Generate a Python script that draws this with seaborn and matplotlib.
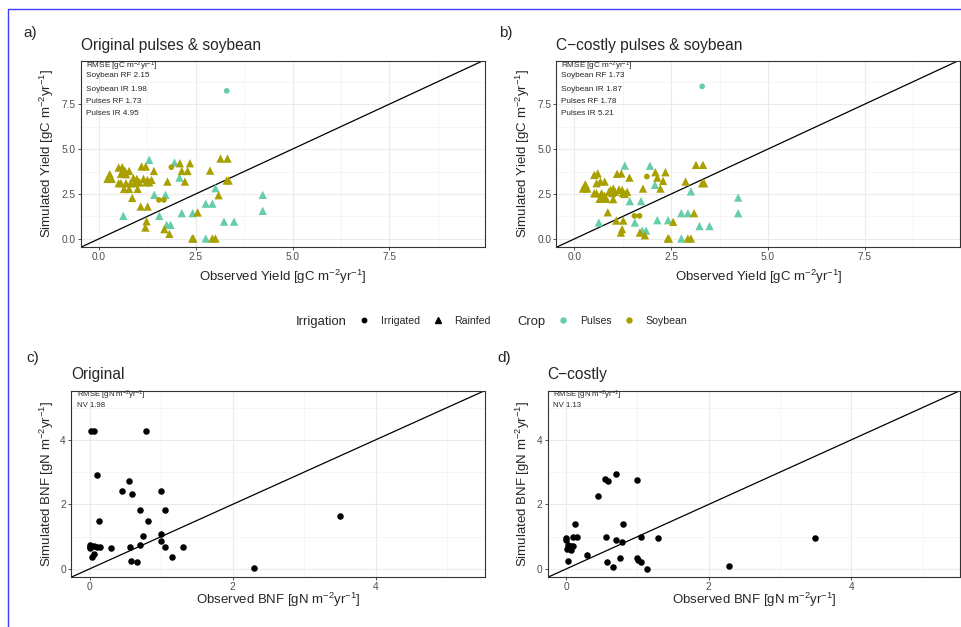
import matplotlib.pyplot as plt
import matplotlib.lines as mlines
import pandas as pd
import seaborn as sns

sns.set_theme(style="ticks")

plt.rcParams["font.family"] = ["Liberation Sans", "DejaVu Sans"]
plt.rcParams["mathtext.fontset"] = "custom"
plt.rcParams["mathtext.rm"] = "Liberation Sans"
plt.rcParams["mathtext.it"] = "Liberation Sans:italic"
plt.rcParams["mathtext.bf"] = "Liberation Sans:bold"
plt.rcParams["mathtext.default"] = "regular"

W, H = 961, 627

# ---- yield data (gC m-2 yr-1), top panels ----
pulses_rf_obs = [1.30, 1.95, 2.08, 1.43, 1.72, 0.63, 1.56, 1.75, 1.85, 2.14,
                 2.42, 2.76, 2.93, 3.01, 3.23, 3.49, 4.23, 4.23, 2.76]
pulses_rf_orig = [4.40, 4.25, 3.41, 2.45, 2.45, 1.28, 1.28, 0.78, 0.78, 1.43,
                  1.43, 1.96, 1.96, 2.82, 0.96, 0.96, 2.45, 1.56, 0.02]
pulses_rf_ccost = [4.08, 4.07, 3.01, 2.10, 2.10, 0.91, 0.91, 0.46, 0.46, 1.04,
                   1.04, 1.43, 1.43, 2.64, 0.71, 0.71, 2.30, 1.43, 0.02]

pulses_ir_obs = [3.30]
pulses_ir_orig = [8.24]
pulses_ir_ccost = [8.49]

soy_ir_obs = [1.87, 1.55, 1.68]
soy_ir_orig = [3.99, 2.17, 2.17]
soy_ir_ccost = [3.47, 1.28, 1.28]

soy_rf_obs = [0.28, 0.22, 0.33, 0.51, 0.60, 0.67, 0.78, 0.57, 0.70, 0.51,
              0.57, 0.70, 0.82, 0.93, 1.00, 1.05, 1.23, 1.30, 0.65, 0.78,
              1.00, 0.86, 1.10, 1.21, 1.42, 0.89, 0.98, 1.15, 1.25, 1.36,
              1.77, 2.09, 2.35, 2.14, 2.29, 2.22, 2.87, 3.14, 3.32, 3.30,
              3.35, 3.09, 2.55, 1.08, 1.26, 1.23, 1.20, 1.69, 1.82, 2.41,
              2.44, 2.93, 3.01]
soy_rf_orig = [3.60, 3.34, 3.34, 3.97, 3.99, 3.80, 3.78, 3.62, 3.60, 3.10,
               3.10, 3.10, 3.10, 3.10, 3.15, 3.15, 3.15, 3.15, 2.78, 2.78,
               2.78, 2.28, 4.03, 4.03, 3.78, 3.38, 3.34, 3.34, 3.28, 3.28,
               3.19, 4.21, 4.21, 3.78, 3.78, 3.19, 3.80, 4.47, 4.47, 3.25,
               3.25, 2.43, 1.47, 1.80, 1.80, 0.98, 0.63, 0.54, 0.28, 0.02,
               0.02, 0.02, 0.02]
soy_rf_ccost = [3.04, 2.80, 2.80, 3.56, 3.64, 3.19, 3.19, 3.10, 2.54, 2.54,
                2.54, 2.23, 2.23, 2.73, 2.80, 2.62, 2.73, 2.50, 2.23, 2.40,
                2.21, 1.48, 3.62, 3.64, 3.41, 2.62, 2.55, 2.75, 2.55, 2.62,
                2.80, 3.71, 3.71, 3.41, 3.23, 2.80, 3.19, 4.12, 4.12, 3.10,
                3.10, 1.43, 0.95, 1.02, 1.02, 0.54, 0.35, 0.35, 0.20, 0.02,
                0.02, 0.02, 0.02]

rmse_orig = ["Soybean RF 2.15", "Soybean IR 1.98", "Pulses RF 1.73", "Pulses IR 4.95"]
rmse_ccost = ["Soybean RF 1.73", "Soybean IR 1.87", "Pulses RF 1.78", "Pulses IR 5.21"]

# ---- BNF data (gN m-2 yr-1), bottom panels ----
bnf_obs_orig = [0.02, 0.06, 0.79, 0.10, 0.13, 0.00, 0.01, 0.00, 0.06, 0.10,
                0.15, 0.04, 0.06, 0.30, 0.45, 0.55, 0.60, 0.56, 0.58, 0.66,
                0.70, 0.81, 0.75, 0.70, 1.00, 1.06, 1.00, 1.00, 1.05, 1.15,
                1.30, 2.30, 3.50]
bnf_sim_orig = [4.28, 4.28, 4.28, 2.91, 1.49, 0.74, 0.64, 0.69, 0.72, 0.69,
                0.69, 0.36, 0.47, 0.64, 2.42, 2.72, 2.33, 0.67, 0.23, 0.22,
                1.83, 1.49, 1.03, 0.74, 2.42, 1.83, 1.07, 0.87, 0.67, 0.38,
                0.69, 0.04, 1.63]
bnf_obs_ccost = [0.00, 0.00, 0.01, 0.06, 0.03, 0.07, 0.09, 0.03, 0.13, 0.10,
                 0.15, 0.29, 0.44, 0.54, 0.59, 0.70, 0.56, 0.57, 0.65, 0.70,
                 0.75, 0.78, 0.80, 1.00, 1.00, 1.01, 1.05, 1.05, 1.14, 1.29,
                 2.29, 3.49]
bnf_sim_ccost = [0.97, 0.90, 0.62, 0.59, 0.75, 0.72, 0.70, 0.26, 1.39, 1.00,
                 1.00, 0.43, 2.27, 2.78, 2.72, 2.94, 1.00, 0.22, 0.07, 0.90,
                 0.33, 0.82, 1.39, 2.75, 0.33, 0.28, 1.00, 0.21, 0.00, 0.97,
                 0.10, 0.95]

crop_colors = {"Pulses": "#66CDAA", "Soybean": "#A9A000"}
unit_c = r"[gC m$^{-2}$yr$^{-1}$]"
unit_n = r"[gN m$^{-2}$yr$^{-1}$]"


def yield_frame(p_rf, p_ir, s_rf, s_ir):
    groups = [
        (pulses_rf_obs, p_rf, "Pulses", "Rainfed"),
        (pulses_ir_obs, p_ir, "Pulses", "Irrigated"),
        (soy_rf_obs, s_rf, "Soybean", "Rainfed"),
        (soy_ir_obs, s_ir, "Soybean", "Irrigated"),
    ]
    parts = [pd.DataFrame({"obs": o, "sim": s, "Crop": c, "Irrigation": i})
             for o, s, c, i in groups]
    return pd.concat(parts, ignore_index=True)


def add_panel(fig, left, right, top, bottom):
    return fig.add_axes([left / W, 1 - bottom / H, (right - left) / W, (bottom - top) / H])


def style_panel(ax, lim_x, lim_y, major, minor, labels):
    ax.set_xlim(lim_x)
    ax.set_ylim(lim_y)
    ax.set_xticks(major, labels)
    ax.set_yticks(major, labels)
    ax.set_xticks(minor, minor=True)
    ax.set_yticks(minor, minor=True)
    ax.grid(which="major", color="#ebebeb", lw=0.8)
    ax.grid(which="minor", color="#f2f2f2", lw=0.5)
    ax.set_axisbelow(True)
    ax.tick_params(which="major", length=2.5, width=0.6, color="#333333",
                   labelsize=7.3, labelcolor="#4d4d4d", pad=1.2)
    ax.tick_params(which="minor", length=0)
    for sp in ax.spines.values():
        sp.set_color("#333333")
        sp.set_linewidth(0.8)
    ax.axline((0, 0), slope=1, color="black", lw=0.9, zorder=1)


fig = plt.figure(figsize=(W / 100, H / 100), dpi=100)
fig.patch.set_facecolor("white")

# ---- top panels ----
top_specs = [
    ((80.7, 485, 60.7, 247.3), "Original pulses & soybean", "a)", (23, 33),
     yield_frame(pulses_rf_orig, pulses_ir_orig, soy_rf_orig, soy_ir_orig), rmse_orig),
    ((556.3, 960.3, 60.7, 247.3), "C\u2212costly pulses & soybean", "b)", (499, 33),
     yield_frame(pulses_rf_ccost, pulses_ir_ccost, soy_rf_ccost, soy_ir_ccost), rmse_ccost),
]
for box, title, tag, tag_xy, df, rmse in top_specs:
    ax = add_panel(fig, *box)
    style_panel(ax, (-0.47, 9.97), (-0.47, 9.92), [0, 2.5, 5, 7.5],
                [1.25, 3.75, 6.25, 8.75], ["0.0", "2.5", "5.0", "7.5"])
    sns.scatterplot(data=df[df["Irrigation"] == "Rainfed"], x="obs", y="sim", hue="Crop",
                    palette=crop_colors, marker="^", s=36, linewidth=0, legend=False,
                    ax=ax, zorder=3)
    sns.scatterplot(data=df[df["Irrigation"] == "Irrigated"], x="obs", y="sim", hue="Crop",
                    palette=crop_colors, marker="o", s=17, linewidth=0, legend=False,
                    ax=ax, zorder=3)
    ax.set_xlabel("Observed Yield " + unit_c, fontsize=9.5)
    ax.set_ylabel("Simulated Yield " + unit_c, fontsize=9.5)
    ax.xaxis.label.set_va("baseline")
    ax.yaxis.label.set_va("baseline")
    ax.xaxis.set_label_coords(0.5, -0.182)
    ax.yaxis.set_label_coords(-0.0735, 0.5)
    ax.text(0, 1.057, title, transform=ax.transAxes, fontsize=11.2, va="baseline")
    fig.text(tag_xy[0] / W, 1 - tag_xy[1] / H, tag, fontsize=11, va="center")
    ax.text(0.012, 0.958, "RMSE " + unit_c, transform=ax.transAxes, fontsize=5.9, va="baseline")
    for line, yy in zip(rmse, [0.911, 0.839, 0.775, 0.711]):
        ax.text(0.012, yy, line, transform=ax.transAxes, fontsize=5.9, va="baseline")

# ---- bottom panels ----
bottom_specs = [
    ((71, 485, 390.5, 577.3), "Original", "c)", (26, 358), bnf_obs_orig, bnf_sim_orig, "NV 1.98"),
    ((547.7, 960.3, 390.5, 577.3), "C\u2212costly", "d)", (497, 358), bnf_obs_ccost, bnf_sim_ccost, "NV 1.13"),
]
for box, title, tag, tag_xy, obs, sim, nv in bottom_specs:
    ax = add_panel(fig, *box)
    style_panel(ax, (-0.26, 5.53), (-0.26, 5.53), [0, 2, 4], [1, 3, 5], ["0", "2", "4"])
    sns.scatterplot(x=obs, y=sim, color="black", s=22, linewidth=0, ax=ax, zorder=3)
    ax.set_xlabel("Observed BNF " + unit_n, fontsize=9.5)
    ax.set_ylabel("Simulated BNF " + unit_n, fontsize=9.5)
    ax.xaxis.label.set_va("baseline")
    ax.yaxis.label.set_va("baseline")
    ax.xaxis.set_label_coords(0.5, -0.143)
    ax.yaxis.set_label_coords(-0.049, 0.5)
    ax.text(0, 1.06, title, transform=ax.transAxes, fontsize=11.2, va="baseline")
    fig.text(tag_xy[0] / W, 1 - tag_xy[1] / H, tag, fontsize=11, va="center")
    ax.text(0.014, 0.964, "RMSE " + unit_n, transform=ax.transAxes, fontsize=5.6, va="baseline")
    ax.text(0.014, 0.914, nv, transform=ax.transAxes, fontsize=5.6, va="baseline")

# ---- shared legend ----
irr_handles = [
    mlines.Line2D([], [], ls="", marker="o", color="black", markersize=3.2, label="Irrigated"),
    mlines.Line2D([], [], ls="", marker="^", color="black", markersize=4.0, label="Rainfed"),
]
crop_handles = [
    mlines.Line2D([], [], ls="", marker="o", color=crop_colors[k], markersize=3.6, label=k)
    for k in crop_colors
]
leg_kw = dict(frameon=False, ncol=2, fontsize=7.6, handlelength=1.0, handletextpad=1.08,
              columnspacing=1.17, borderpad=0, borderaxespad=0, loc="center left")
fig.legend(handles=irr_handles, bbox_to_anchor=(359.0 / W, 1 - 320.7 / H), **leg_kw)
fig.legend(handles=crop_handles, bbox_to_anchor=(558.0 / W, 1 - 320.7 / H), **leg_kw)
fig.text(295.7 / W, 1 - 325 / H, "Irrigation", fontsize=9.4, va="baseline")
fig.text(517.7 / W, 1 - 325 / H, "Crop", fontsize=9.4, va="baseline")

# frame edges visible in the original screenshot
fig.add_artist(mlines.Line2D([8 / W, 1], [1 - 9 / H, 1 - 9 / H], color="#3d3dff", lw=1.0))
fig.add_artist(mlines.Line2D([8 / W, 8 / W], [0, 1 - 9 / H], color="#3d3dff", lw=1.0))

fig.savefig("out.png", dpi=100)
